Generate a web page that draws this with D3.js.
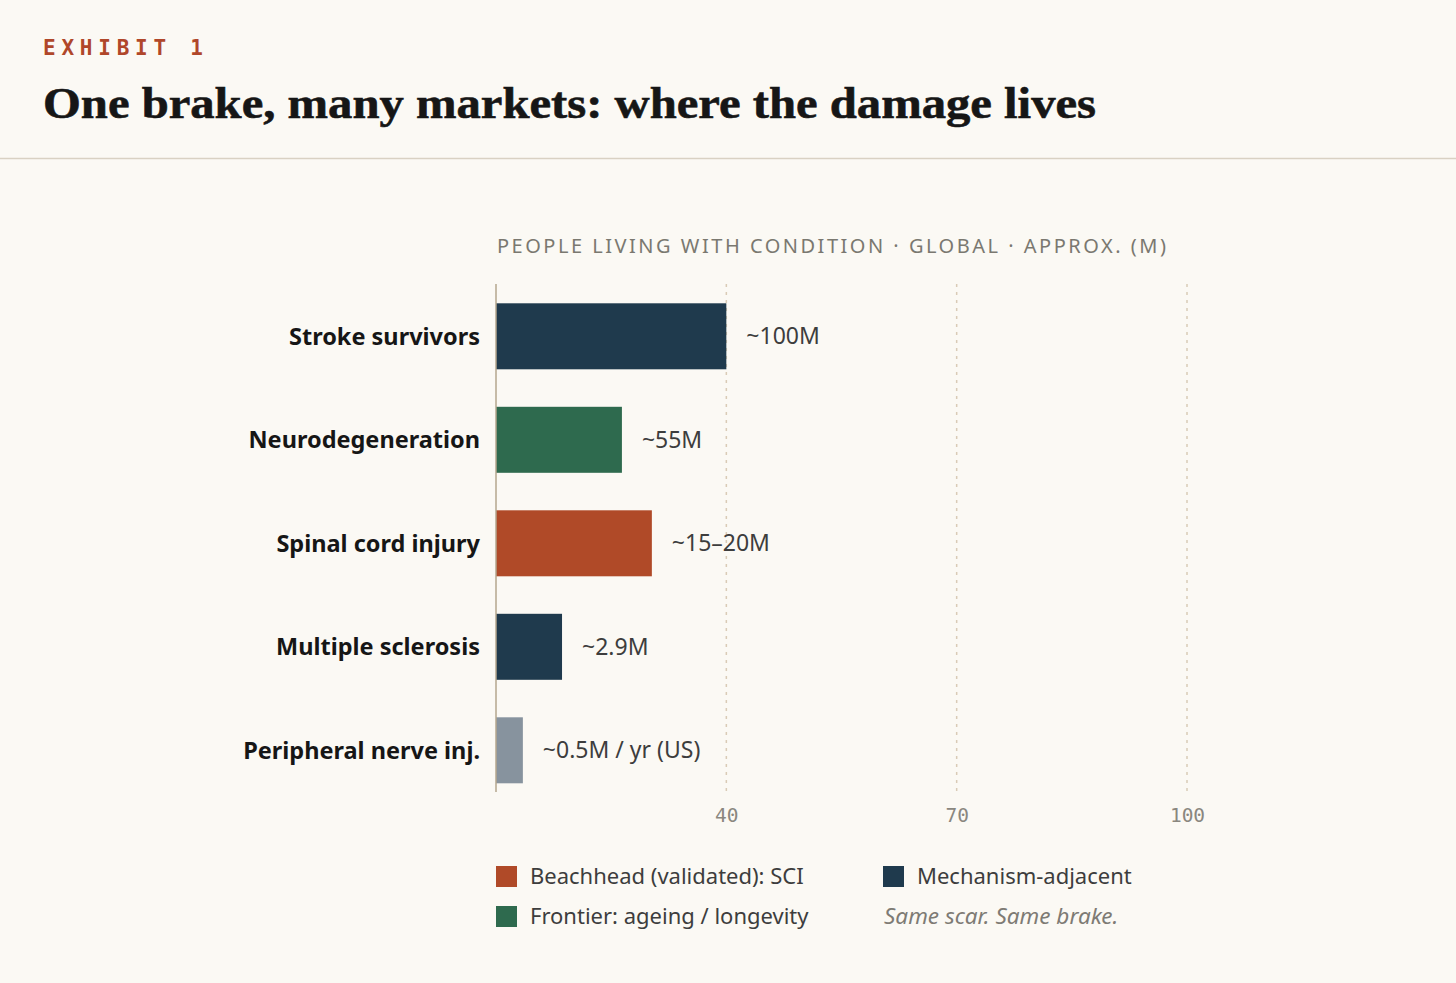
<!DOCTYPE html>
<html>
<head>
<meta charset="utf-8">
<script src="https://cdn.jsdelivr.net/npm/d3@7"></script>
<style>
  html, body { margin: 0; padding: 0; background: #fbf9f4; }
  svg { display: block; }
</style>
</head>
<body>
<div class="chart"></div>
<script>
// ---------------- data ----------------
const categories = ["Stroke survivors", "Neurodegeneration", "Spinal cord injury", "Multiple sclerosis", "Peripheral nerve inj."]
// bar lengths as drawn against the axis
const barValues = [40, 26.4, 30.3, 18.6, 13.5]
const valueLabels = ["~100M", "~55M", "~15\u201320M", "~2.9M", "~0.5M / yr (US)"]
const barGroups = ["adjacent", "frontier", "beachhead", "adjacent", "other"]
const tickValues = [40, 70, 100]
const legendLabels = ["Beachhead (validated): SCI", "Frontier: ageing / longevity", "Mechanism-adjacent"]
const legendGroups = ["beachhead", "frontier", "adjacent"]

const groupColors = {
  beachhead: "#b04a28",
  frontier: "#2e6a4e",
  adjacent: "#1f3a4d",
  other: "#87939e"
}

// ---------------- layout ----------------
const width = 1456
const height = 983
const plot = { left: 496, right: 1187, top: 284, bottom: 792 }

const sans = "'Noto Sans', 'Open Sans', sans-serif"
const mono = "'DejaVu Sans Mono', 'Liberation Mono', monospace"
const serif = "'Liberation Serif', 'DejaVu Serif', serif"

const svg = d3.select(".chart")
  .append("svg")
  .attr("width", width)
  .attr("height", height)

svg.append("rect")
  .attr("width", width)
  .attr("height", height)
  .attr("fill", "#fbf9f4")

// header
svg.append("text")
  .attr("x", 43)
  .attr("y", 55)
  .attr("font-family", mono)
  .attr("font-size", 21)
  .attr("font-weight", 600)
  .attr("fill", "#b0472a")
  .attr("textLength", 160)
  .attr("lengthAdjust", "spacing")
  .text("EXHIBIT 1")

svg.append("text")
  .attr("x", 43)
  .attr("y", 118)
  .attr("font-family", serif)
  .attr("font-size", 45)
  .attr("font-weight", "bold")
  .attr("fill", "#161616")
  .attr("stroke", "#161616")
  .attr("stroke-width", 0.6)
  .attr("textLength", 1053)
  .attr("lengthAdjust", "spacingAndGlyphs")
  .text("One brake, many markets: where the damage lives")

svg.append("line")
  .attr("x1", 0)
  .attr("x2", width)
  .attr("y1", 158.5)
  .attr("y2", 158.5)
  .attr("stroke", "#d9d1c3")
  .attr("stroke-width", 1.5)

// subtitle
svg.append("text")
  .attr("x", 497)
  .attr("y", 253)
  .attr("font-family", sans)
  .attr("font-size", 20)
  .attr("fill", "#7a7870")
  .attr("textLength", 669)
  .attr("lengthAdjust", "spacing")
  .text("PEOPLE LIVING WITH CONDITION \u00b7 GLOBAL \u00b7 APPROX. (M)")

// ---------------- scales ----------------
const xScale = d3.scaleLinear()
  .domain([10, 100])
  .range([plot.left, plot.right])

const yScale = d3.scaleBand()
  .domain(categories)
  .range([265.8, 820.8])
  .paddingInner(0.3623)
  .paddingOuter(0.3623)

// gridlines
svg.selectAll(".grid")
  .data(tickValues)
  .enter()
  .append("line")
  .attr("class", "grid")
  .attr("x1", (d) => xScale(d))
  .attr("x2", (d) => xScale(d))
  .attr("y1", plot.top)
  .attr("y2", plot.bottom)
  .attr("stroke", "#d9cbb6")
  .attr("stroke-width", 1.5)
  .attr("stroke-dasharray", "3 5")

// bars
const rows = categories.map((c, i) => ({ name: c, value: barValues[i], label: valueLabels[i], group: barGroups[i] }))

svg.selectAll(".bar")
  .data(rows)
  .enter()
  .append("rect")
  .attr("class", "bar")
  .attr("x", xScale(10))
  .attr("y", (d) => yScale(d.name))
  .attr("width", (d) => xScale(d.value) - xScale(10))
  .attr("height", yScale.bandwidth())
  .attr("fill", (d) => groupColors[d.group])

// value labels
svg.selectAll(".value")
  .data(rows)
  .enter()
  .append("text")
  .attr("class", "value")
  .attr("x", (d) => xScale(d.value) + 20)
  .attr("y", (d) => yScale(d.name) + yScale.bandwidth() / 2)
  .attr("dy", "0.35em")
  .attr("font-family", sans)
  .attr("font-size", 23)
  .attr("fill", "#3d3d3d")
  .text((d) => d.label)

// category labels
svg.selectAll(".cat")
  .data(rows)
  .enter()
  .append("text")
  .attr("class", "cat")
  .attr("x", plot.left - 16)
  .attr("y", (d) => yScale(d.name) + yScale.bandwidth() / 2)
  .attr("dy", "0.36em")
  .attr("text-anchor", "end")
  .attr("font-family", sans)
  .attr("font-size", 23.5)
  .attr("font-weight", "bold")
  .attr("fill", "#161616")
  .text((d) => d.name)

// y axis line
svg.append("line")
  .attr("x1", plot.left)
  .attr("x2", plot.left)
  .attr("y1", plot.top)
  .attr("y2", plot.bottom)
  .attr("stroke", "#b5a68e")
  .attr("stroke-width", 1.5)

// x axis tick labels
const xAxis = d3.axisBottom(xScale)
  .tickValues(tickValues)
  .tickSize(0)
  .tickPadding(0)

const xg = svg.append("g")
  .attr("id", "x-axis")
  .attr("transform", "translate(0, " + 808 + ")")
  .call(xAxis)

xg.select(".domain").remove()
xg.selectAll("text")
  .attr("font-family", mono)
  .attr("font-size", 19.5)
  .attr("fill", "#8a877f")

// ---------------- legend ----------------
const legendPos = [[496, 866], [496, 906], [883, 866]]

const legend = svg.selectAll(".legend")
  .data(legendLabels)
  .enter()
  .append("g")
  .attr("class", "legend")
  .attr("transform", (d, i) => "translate(" + legendPos[i][0] + "," + legendPos[i][1] + ")")

legend.append("rect")
  .attr("width", 21)
  .attr("height", 21)
  .attr("fill", (d, i) => groupColors[legendGroups[i]])

legend.append("text")
  .attr("x", 34)
  .attr("y", 10.5)
  .attr("dy", "0.35em")
  .attr("font-family", sans)
  .attr("font-size", 22)
  .attr("fill", "#3d3d3d")
  .text((d) => d)

svg.append("text")
  .attr("x", 884)
  .attr("y", 916.5)
  .attr("dy", "0.35em")
  .attr("font-family", sans)
  .attr("font-size", 22.5)
  .attr("font-style", "italic")
  .attr("fill", "#7e7b74")
  .text("Same scar. Same brake.")
</script>
</body>
</html>
